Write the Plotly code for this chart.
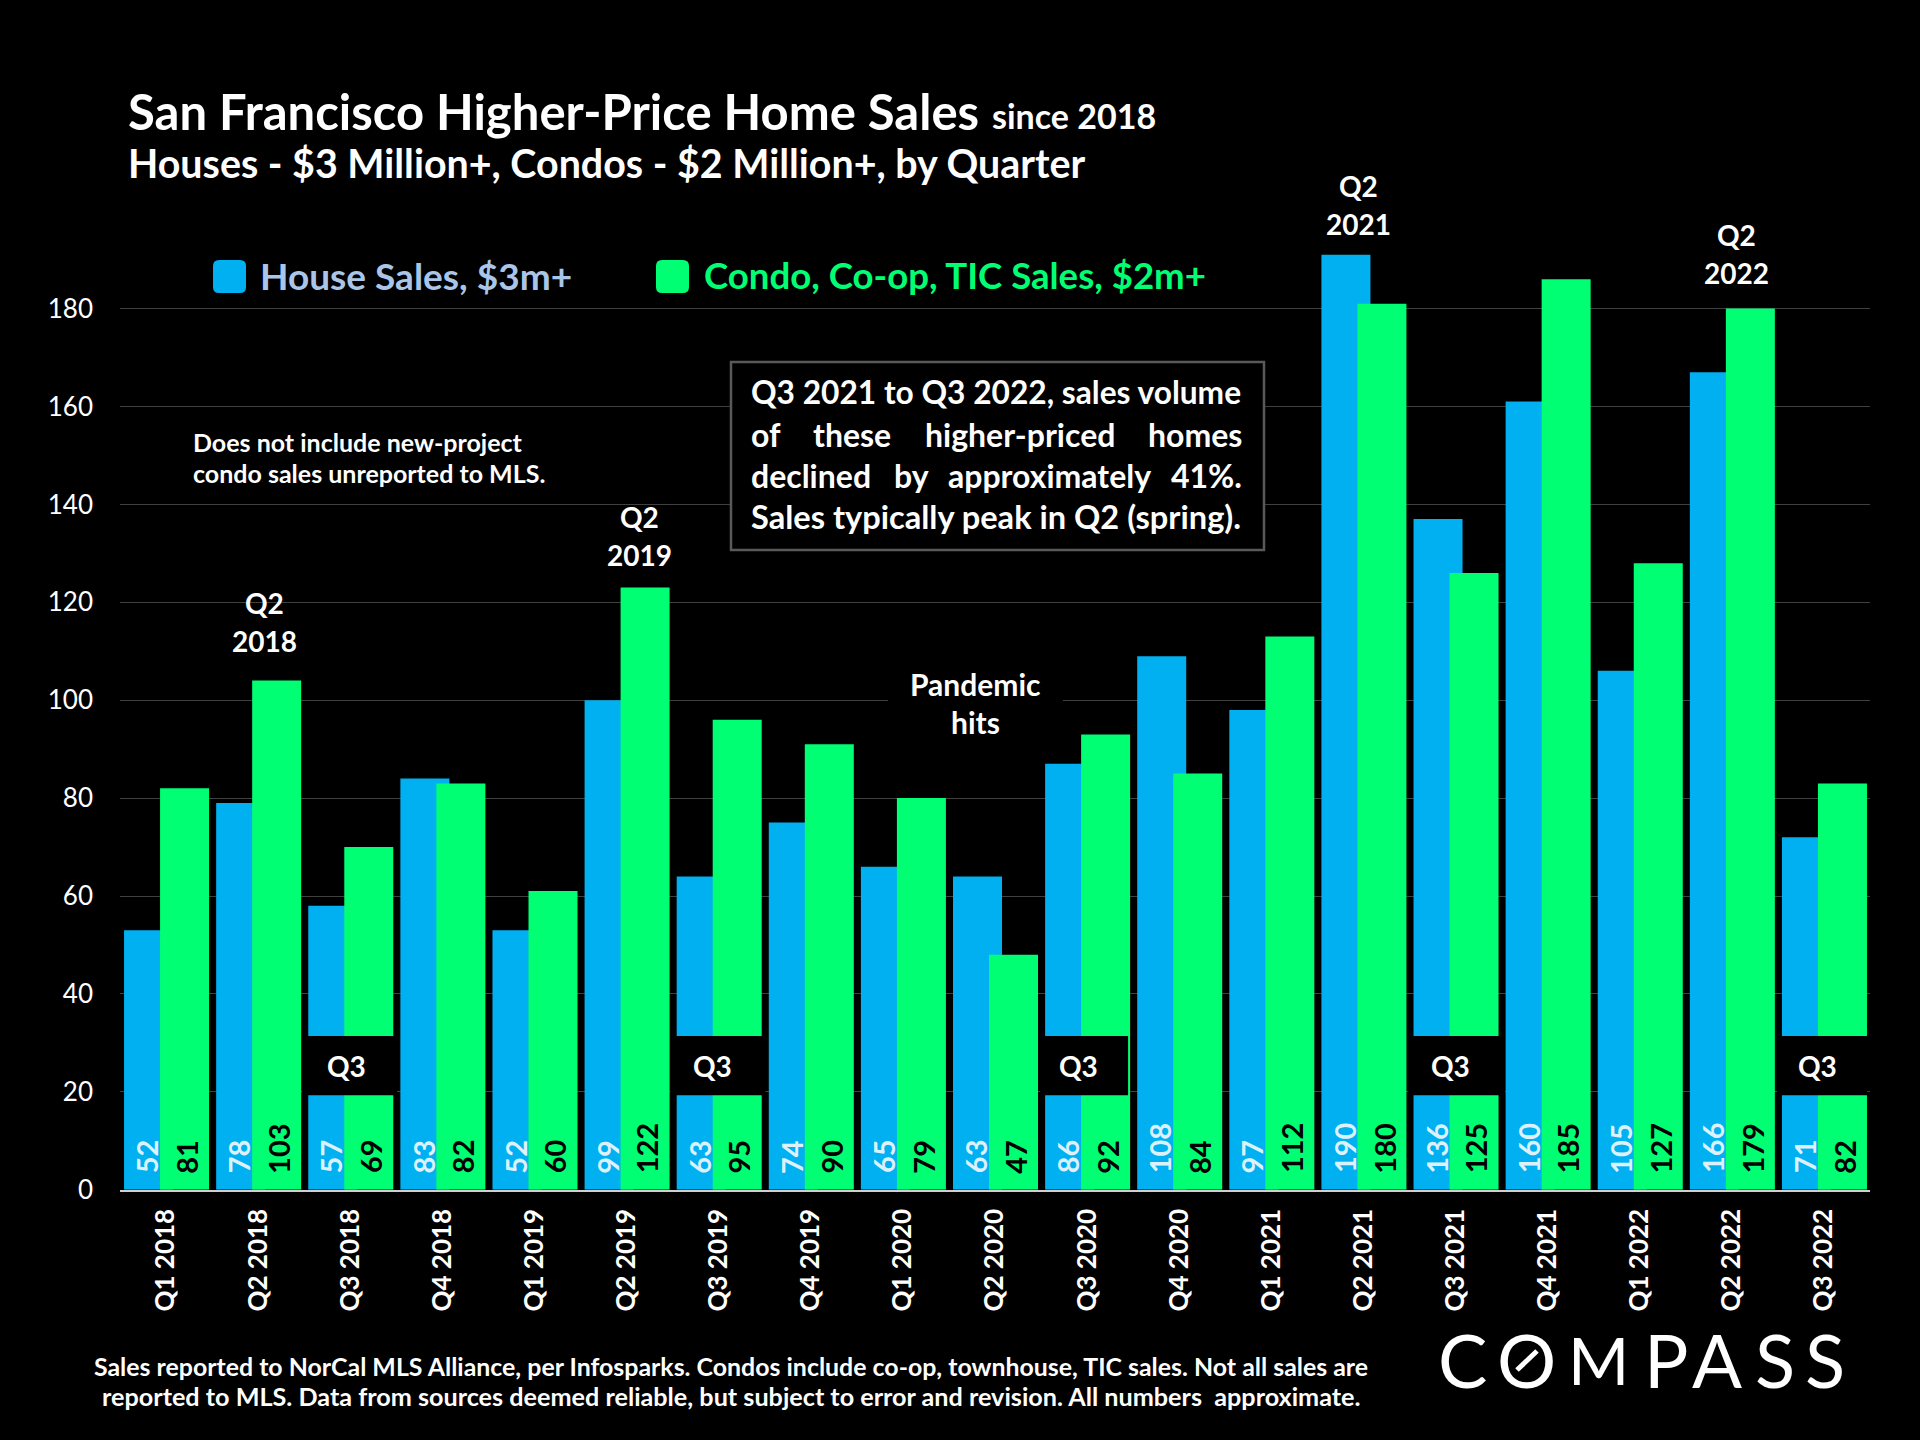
import plotly.graph_objects as go

quarters = ["Q1 2018","Q2 2018","Q3 2018","Q4 2018","Q1 2019","Q2 2019","Q3 2019","Q4 2019","Q1 2020","Q2 2020",
            "Q3 2020","Q4 2020","Q1 2021","Q2 2021","Q3 2021","Q4 2021","Q1 2022","Q2 2022","Q3 2022"]
house_labels = [52,78,57,83,52,99,63,74,65,63,86,108,97,190,136,160,105,166,71]
condo_labels = [81,103,69,82,60,122,95,90,79,47,92,84,112,180,125,185,127,179,82]
house_heights = [53,79,58,84,53,100,64,75,66,64,87,109,98,191,137,161,106,167,72]
condo_heights = [82,104,70,83,61,123,96,91,80,48,93,85,113,181,126,186,128,180,83]
y_ticks = [0,20,40,60,80,100,120,140,160,180]

BLUE = "#00B0F0"
GREEN = "#00FF73"
FONT = "Lato"
W, H = 1920, 1440


def px(x, y):
    return x / W, 1 - y / H


anns = []


def text(x, y, s, size, color="white", xanchor="left", yanchor="middle", angle=0, bg=None, family=FONT):
    X, Y = px(x, y - 1)
    d = dict(x=X, y=Y, xref="paper", yref="paper", text=s, showarrow=False, xanchor=xanchor, yanchor=yanchor,
             font=dict(family=family, size=size, color=color), textangle=angle, borderpad=0)
    if bg:
        d["bgcolor"] = bg
    anns.append(d)


fig = go.Figure()
fig.add_bar(x=quarters, y=house_heights, width=0.532, offset=-0.456, marker=dict(color=BLUE, line_width=0), name="House Sales, $3m+")
fig.add_bar(x=quarters, y=condo_heights, width=0.532, offset=-0.065, marker=dict(color=GREEN, line_width=0), name="Condo, Co-op, TIC Sales, $2m+")

# value labels
for i, (a, b) in enumerate(zip(house_labels, condo_labels)):
    anns.append(dict(x=i - 0.21, y=2.9, xref="x", yref="y", text=f"<b>{a}</b>", showarrow=False, textangle=-90, yanchor="bottom",
                     font=dict(family=FONT, size=29, color="#DDF1FC")))
    anns.append(dict(x=i + 0.22, y=2.9, xref="x", yref="y", text=f"<b>{b}</b>", showarrow=False, textangle=-90, yanchor="bottom",
                     font=dict(family=FONT, size=29, color="black")))

# titles
text(127, 112, "<b>San Francisco Higher-Price Home Sales</b>", 49)
text(991, 116, "<b>since 2018</b>", 34)
text(127, 163, "<b>Houses - $3 Million+, Condos - $2 Million+, by Quarter</b>", 39.4)

# legend
text(259, 276, "<b>House Sales, $3m+</b>", 37, color="#A9C5E8")
text(703, 276, "<b>Condo, Co-op, TIC Sales, $2m+</b>", 36.6, color=GREEN)


def rounded(x0, y0, x1, y1, r):
    p0x, p0y = px(x0, y0)
    p1x, p1y = px(x1, y1)
    rx, ry = r / W, r / H
    return (f"M {p0x+rx} {p0y} L {p1x-rx} {p0y} Q {p1x} {p0y} {p1x} {p0y-ry} L {p1x} {p1y+ry} Q {p1x} {p1y} {p1x-rx} {p1y} "
            f"L {p0x+rx} {p1y} Q {p0x} {p1y} {p0x} {p1y+ry} L {p0x} {p0y-ry} Q {p0x} {p0y} {p0x+rx} {p0y} Z")


shapes = [
    dict(type="path", path=rounded(213, 260, 246, 293, 6), xref="paper", yref="paper", fillcolor=BLUE, line_width=0),
    dict(type="path", path=rounded(656, 260, 689, 293, 6), xref="paper", yref="paper", fillcolor=GREEN, line_width=0),
]

# note
text(192, 443, "<b>Does not include new-project</b>", 25)
text(192, 474, "<b>condo sales unreported to MLS.</b>", 25)

# callout box
bx0, by0 = px(731, 362)
bx1, by1 = px(1264, 550)
shapes.append(dict(type="rect", x0=bx0, y0=by0, x1=bx1, y1=by1, xref="paper", yref="paper", fillcolor="black",
                   line=dict(color="#595959", width=2.5), layer="above"))
text(750, 393, "<b>Q3 2021 to Q3 2022, sales volume</b>", 31.7)
text(750, 435, "<b>of</b>", 32)
text(812, 435, "<b>these</b>", 32)
text(924, 435, "<b>higher-priced</b>", 32)
text(1243, 435, "<b>homes</b>", 32, xanchor="right")
text(750, 477, "<b>declined</b>", 32)
text(893, 477, "<b>by</b>", 32)
text(947, 477, "<b>approximately</b>", 32)
text(1243, 477, "<b>41%.</b>", 32, xanchor="right")
text(750, 518, "<b>Sales typically peak in Q2 (spring).</b>", 32.6)

# peak notes
for cx, y1, y2, lab1, lab2 in [(264.5, 604, 642, "Q2", "2018"), (639, 518, 556, "Q2", "2019"),
                               (1358, 187, 225, "Q2", "2021"), (1736, 236, 274, "Q2", "2022")]:
    text(cx, y1, f"<b>{lab1}</b>", 28, xanchor="center")
    text(cx, y2, f"<b>{lab2}</b>", 28, xanchor="center")

# pandemic
pgx0, pgy0 = px(888, 665)
pgx1, pgy1 = px(1063, 740)
shapes.append(dict(type="rect", x0=pgx0, y0=pgy0, x1=pgx1, y1=pgy1, xref="paper", yref="paper", fillcolor="black", line_width=0, layer="above"))
text(975, 684.5, "<b>Pandemic</b>", 30, xanchor="center")
text(975, 722.5, "<b>hits</b>", 30, xanchor="center")

# Q3 boxes: index, left extent, right extent, label shift
for i, left, right, shift in [(2, -0.524, 0.507, -0.04), (6, -0.524, 0.507, -0.065), (10, -0.51, 0.445, -0.09),
                              (14, -0.515, 0.537, -0.05), (18, -0.508, 0.469, -0.07)]:
    shapes.append(dict(type="rect", x0=i + left, x1=i + right, y0=19.3, y1=31.4, xref="x", yref="y", fillcolor="black", line_width=0, layer="above"))
    anns.append(dict(x=i + shift, y=25.3, xref="x", yref="y", text="<b>Q3</b>", showarrow=False, font=dict(family=FONT, size=28, color="white")))

# footer
text(731, 1366.5, "<b>Sales reported to NorCal MLS Alliance, per Infosparks. Condos include co-op, townhouse, TIC sales. Not all sales are</b>", 24.9, xanchor="center")
text(731, 1397, "<b>reported to MLS. Data from sources deemed reliable, but subject to error and revision. All numbers  approximate.</b>", 25.2, xanchor="center")

# logo
for cx, ch, sz in [(1462, "C", 74), (1526.5, "O", 74), (1598, "M", 66), (1666, "P", 74), (1717, "A", 74), (1774.5, "S", 74), (1825, "S", 74)]:
    text(cx, 1360, f"<b>{ch}</b>" if False else ch, sz, xanchor="center")
sx0, sy0 = px(1517, 1370)
sx1, sy1 = px(1537, 1351)
shapes.append(dict(type="line", x0=sx0, y0=sy0, x1=sx1, y1=sy1, xref="paper", yref="paper", line=dict(color="white", width=5)))

fig.update_layout(
    width=W, height=H, margin=dict(l=0, r=0, t=0, b=0, pad=0), autosize=False,
    paper_bgcolor="black", plot_bgcolor="black", barmode="overlay", showlegend=False,
    font=dict(family=FONT, color="white"), annotations=anns, shapes=shapes,
    xaxis=dict(domain=[120 / W, 1870 / W], range=[-0.5, 18.5], type="category", categoryorder="array", categoryarray=quarters,
               automargin=False, tickangle=-90, ticks="", showgrid=False, showline=True, linecolor="#D0D0D0", linewidth=1.5, zeroline=False,
               tickfont=dict(family=FONT, size=26, color="white"), ticklabelstandoff=7, tickprefix="<b>", ticksuffix="</b>"),
    yaxis=dict(domain=[1 - 1189.7 / H, 1 - 210.7 / H], range=[0, 200], tickvals=y_ticks, ticks="", showgrid=True, automargin=False,
               gridcolor="#404040", gridwidth=1.2, zeroline=False, showline=False,
               tickfont=dict(family=FONT, size=26, color="white"), ticklabelstandoff=26, tickprefix="<b>", ticksuffix="</b>"),
)
fig.write_html("out.html", config=dict(displayModeBar=False),
               post_script="document.body.style.margin='0';document.body.style.background='black';")
